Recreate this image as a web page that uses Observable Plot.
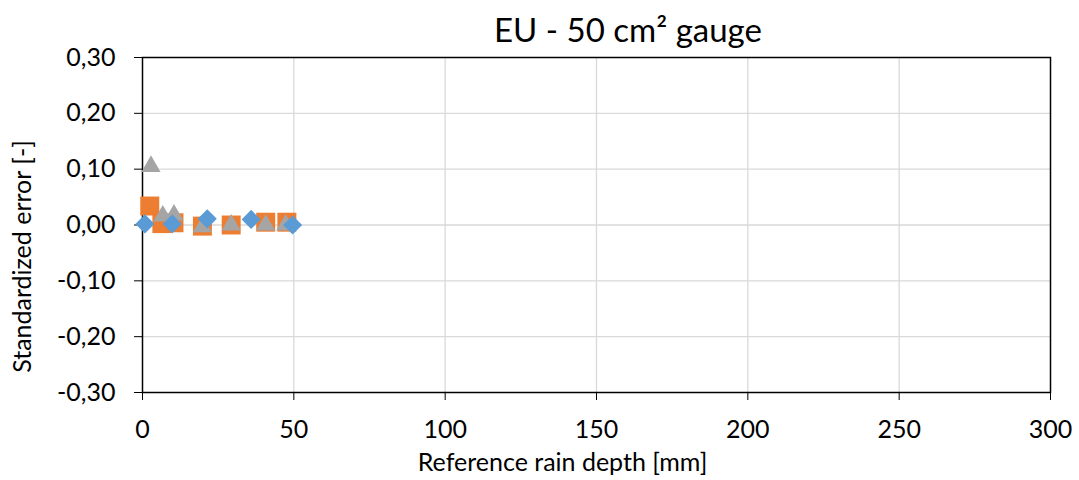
<!DOCTYPE html>
<html>
<head>
<meta charset="utf-8">
<script src="https://cdn.jsdelivr.net/npm/d3@7"></script>
<script src="https://cdn.jsdelivr.net/npm/@observablehq/plot@0.6"></script>
<style>
  body { margin: 0; background: #fff; }
  #wrap { width: 1079px; }
  #title { height: 45px; position: relative; }
  #title span { position: absolute; left: 628px; top: 13px; transform: translateX(-50%);
    font-family: Lato, sans-serif; font-size: 33px; line-height: 1; white-space: nowrap; color: #000; }
</style>
</head>
<body>
<div id="wrap">
  <div id="title"><span>EU - 50 cm² gauge</span></div>
  <div id="chart"></div>
</div>
<script>
const titleText = "EU - 50 cm² gauge";
const xLabel = "Reference rain depth [mm]";
const yLabel = "Standardized error [-]";
const xTicks = [0, 50, 100, 150, 200, 250, 300];
const yTicks = [-0.3, -0.2, -0.1, 0, 0.1, 0.2, 0.3];

// orange squares
const sqDepth = [2.4, 6.4, 10.4, 19.8, 29.3, 40.7, 47.7];
const sqErr   = [0.034, 0.0025, 0.004, -0.002, 0.0, 0.005, 0.005];
// gray triangles
const triDepth = [2.8, 6.7, 10.4, 19.8, 29.3, 40.7, 47.3];
const triErr   = [0.105, 0.016, 0.018, -0.003, 0.0, 0.0, 0.0];
// blue diamonds
const diaDepth = [0.8, 9.8, 21.4, 35.9, 49.6];
const diaErr   = [0.002, 0.002, 0.011, 0.010, 0.0];

const sq = sqDepth.map((d, i) => ({x: d, y: sqErr[i]}));
const tri = triDepth.map((d, i) => ({x: d, y: triErr[i]}));
const dia = diaDepth.map((d, i) => ({x: d, y: diaErr[i]}));

const fmt = d => (Math.round(d * 100) / 100).toFixed(2).replace(".", ",").replace("-0,00", "0,00");

const chart = Plot.plot({
  width: 1079,
  height: 435,
  marginLeft: 142,
  marginRight: 29,
  marginTop: 12,
  marginBottom: 88,
  style: {fontFamily: "Lato, sans-serif", fontSize: "25px", color: "#000", background: "#fff", overflow: "visible"},
  x: {domain: [0, 300], ticks: xTicks, tickSize: 8, tickPadding: 20, label: null},
  y: {domain: [-0.3, 0.3], ticks: yTicks, tickSize: 8, tickPadding: 19, tickFormat: fmt, label: null},
  marks: [
    Plot.ruleX(xTicks.slice(1, -1), {stroke: "#d9d9d9", strokeWidth: 1.3}),
    Plot.ruleY(yTicks.slice(1, -1), {stroke: "#d9d9d9", strokeWidth: 1.3}),
    Plot.frame({stroke: "#000", strokeWidth: 1.5}),
    Plot.dot(sq, {x: "x", y: "y", symbol: "square", r: 10.7, fill: "#ED7D31", stroke: "none"}),
    Plot.dot(tri, {x: "x", y: "y", symbol: "triangle", r: 7.1, fill: "#A5A5A5", stroke: "none"}),
    Plot.dot(dia, {x: "x", y: "y", symbol: "diamond2", r: 8.6, fill: "#5B9BD5", stroke: "none"}),
    Plot.text([xLabel], {text: d => d, frameAnchor: "bottom", textAnchor: "middle", dx: -34, dy: 70, lineAnchor: "middle", fontSize: 25}),
    Plot.text([yLabel], {text: d => d, frameAnchor: "left", textAnchor: "middle", rotate: -90, dx: -120, dy: 31.5, lineAnchor: "middle", fontSize: 25})
  ]
});
document.getElementById("chart").appendChild(chart);
</script>
</body>
</html>
